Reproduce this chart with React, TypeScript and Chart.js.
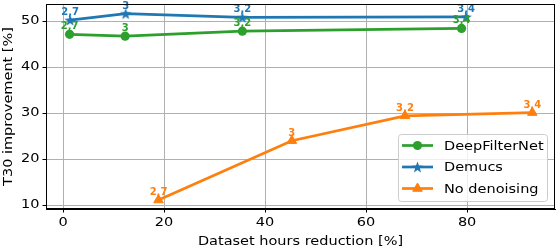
import React, { useEffect, useRef } from "react";
import { Chart, registerables } from "chart.js";
Chart.register(...registerables);

const seriesNames = ["DeepFilterNet", "Demucs", "No denoising"];
const seriesColors = ["#2ca02c", "#1f77b4", "#ff7f0e"];
const deepFilterX = [1.3, 12.3, 35.5, 78.9];
const deepFilterY = [47.1, 46.7, 47.8, 48.4];
const demucsX = [1.4, 12.4, 35.5, 79.8];
const demucsY = [50.2, 51.6, 50.8, 50.9];
const noDenoiseX = [18.9, 45.3, 67.7, 92.9];
const noDenoiseY = [11.1, 24.0, 29.4, 30.1];
const deepFilterLabels = ["2,7", "3", "3,2", "3,4"];
const demucsLabels = ["2,7", "3", "3,2", "3,4"];
const noDenoiseLabels = ["2,7", "3", "3,2", "3,4"];
const xTicks = [0, 20, 40, 60, 80];
const yTicks = [10, 20, 30, 40, 50];
const xTitle = "Dataset hours reduction [%]";
const yTitle = "T30 improvement [%]";

const FONT = "DejaVu Sans";
const TEXT_SIZE = 12.5;
const STRETCH = 1.16;
const AREA = { left: 46, right: 555, top: 4, bottom: 209 };

function starPath(ctx: CanvasRenderingContext2D, cx: number, cy: number, ro: number, ri: number) {
  ctx.beginPath();
  for (let i = 0; i < 10; i++) {
    const r = i % 2 === 0 ? ro : ri;
    const a = -Math.PI / 2 + (i * Math.PI) / 5;
    const px = cx + r * Math.cos(a);
    const py = cy + r * Math.sin(a);
    if (i === 0) ctx.moveTo(px, py);
    else ctx.lineTo(px, py);
  }
  ctx.closePath();
}

function makeStar(color: string) {
  const c = document.createElement("canvas");
  c.width = 14;
  c.height = 14;
  const g = c.getContext("2d")!;
  starPath(g, 7, 7.6, 6, 2.5);
  g.fillStyle = color;
  g.fill();
  return c;
}

function drawMarker(ctx: CanvasRenderingContext2D, kind: number, x: number, y: number, color: string) {
  ctx.save();
  ctx.fillStyle = color;
  ctx.strokeStyle = color;
  ctx.lineWidth = 1;
  if (kind === 0) {
    ctx.beginPath();
    ctx.arc(x, y, 4.6, 0, Math.PI * 2);
    ctx.fill();
  } else if (kind === 1) {
    starPath(ctx, x, y + 0.6, 6, 2.5);
    ctx.fill();
  } else {
    const r = 5.5;
    ctx.beginPath();
    ctx.moveTo(x, y - r);
    ctx.lineTo(x + r * Math.sin((2 * Math.PI) / 3), y - r * Math.cos((2 * Math.PI) / 3));
    ctx.lineTo(x + r * Math.sin((4 * Math.PI) / 3), y - r * Math.cos((4 * Math.PI) / 3));
    ctx.closePath();
    ctx.fill();
    ctx.stroke();
  }
  ctx.restore();
}

const allLabels = [deepFilterLabels, demucsLabels, noDenoiseLabels];

function origFill(ctx: any) {
  return (ctx.__origFillText || ctx.fillText).bind(ctx);
}

const stretchPlugin = {
  id: "stretchText",
  beforeDraw(chart: any) {
    const ctx = chart.ctx as any;
    if (ctx.__origFillText) return;
    const orig = ctx.fillText;
    ctx.__origFillText = orig;
    ctx.fillText = function (t: string, x: number, y: number) {
      ctx.save();
      ctx.translate(x, y);
      ctx.scale(STRETCH, 1);
      orig.call(ctx, t, 0, 0);
      ctx.restore();
    };
  },
};

const labelPlugin = {
  id: "pointLabels",
  afterDatasetsDraw(chart: any) {
    const ctx = chart.ctx as CanvasRenderingContext2D;
    const fill = origFill(ctx);
    ctx.save();
    ctx.font = `bold 10px "${FONT}"`;
    ctx.textAlign = "center";
    ctx.textBaseline = "alphabetic";
    chart.data.datasets.forEach((ds: any, di: number) => {
      const meta = chart.getDatasetMeta(di);
      ctx.fillStyle = seriesColors[di];
      meta.data.forEach((el: any, i: number) => {
        fill(allLabels[di][i], el.x, el.y - 5);
      });
    });
    ctx.restore();
  },
};

const framePlugin = {
  id: "frameAndLegend",
  afterDraw(chart: any) {
    const ctx = chart.ctx as CanvasRenderingContext2D;
    const a = chart.chartArea;
    ctx.save();
    ctx.strokeStyle = "#000";
    ctx.lineWidth = 1;
    ctx.strokeRect(a.left + 0.5, a.top + 0.5, a.right - a.left - 1, a.bottom - a.top - 1);

    // legend
    const bw = 149;
    const bh = 67;
    const bx = a.right - 8 - bw;
    const by = a.bottom - 8 - bh;
    ctx.beginPath();
    (ctx as any).roundRect(bx + 0.5, by + 0.5, bw, bh, 3);
    ctx.fillStyle = "rgba(255,255,255,0.8)";
    ctx.fill();
    ctx.strokeStyle = "#cccccc";
    ctx.stroke();
    ctx.font = `${TEXT_SIZE}px "${FONT}"`;
    ctx.textBaseline = "middle";
    ctx.textAlign = "left";
    seriesNames.forEach((name, i) => {
      const ry = by + 11.5 + i * 21.5;
      ctx.strokeStyle = seriesColors[i];
      ctx.lineWidth = 2.7;
      ctx.beginPath();
      ctx.moveTo(bx + 4, ry);
      ctx.lineTo(bx + 35, ry);
      ctx.stroke();
      drawMarker(ctx, i, bx + 19.5, ry, seriesColors[i]);
      ctx.fillStyle = "#000";
      ctx.fillText(name, bx + 46, ry + 1);
    });
    ctx.restore();
  },
};

const zeroPad = () => ({ left: 0, top: 0, right: 0, bottom: 0 });

export default function App() {
  const ref = useRef<HTMLCanvasElement>(null);
  useEffect(() => {
    if (!ref.current) return;
    const xs = [deepFilterX, demucsX, noDenoiseX];
    const ys = [deepFilterY, demucsY, noDenoiseY];
    const styles: any[] = ["circle", makeStar(seriesColors[1]), "triangle"];
    const radii = [4.6, 6, 5.5];
    const datasets = seriesNames.map((name, i) => ({
      label: name,
      data: xs[i].map((x, j) => ({ x, y: ys[i][j] })),
      showLine: true,
      borderColor: seriesColors[i],
      backgroundColor: seriesColors[i],
      borderWidth: 2.7,
      pointStyle: styles[i],
      pointRadius: radii[i],
      pointBorderWidth: i === 2 ? 1 : 0,
      pointBackgroundColor: seriesColors[i],
      pointBorderColor: seriesColors[i],
      tension: 0,
      clip: false as any,
    }));
    const tickFont = { family: FONT, size: TEXT_SIZE };
    const chart = new Chart(ref.current, {
      type: "scatter",
      data: { datasets },
      plugins: [stretchPlugin, labelPlugin, framePlugin],
      options: {
        animation: false,
        responsive: false,
        devicePixelRatio: 1,
        layout: { autoPadding: false, padding: { top: AREA.top, right: 556 - AREA.right, left: 0, bottom: 0 } },
        plugins: { legend: { display: false }, tooltip: { enabled: false } },
        scales: {
          x: {
            type: "linear",
            min: -3.37,
            max: 97.4,
            afterBuildTicks: (s: any) => {
              s.ticks = xTicks.map((v) => ({ value: v }));
            },
            afterFit: (s: any) => {
              s.height = 251 - AREA.bottom;
              s.paddingLeft = 0;
              s.paddingRight = 0;
              s.paddingTop = 0;
              s.paddingBottom = 0;
              s.getPadding = zeroPad;
            },
            grid: { color: "#b0b0b0", lineWidth: 1, tickColor: "#000", tickLength: 3.5, tickWidth: 1 },
            border: { color: "#000", width: 1 },
            ticks: { font: tickFont, color: "#000", padding: 3, maxRotation: 0, callback: (v: any) => String(v) },
            title: { display: true, text: xTitle, font: tickFont, color: "#000", padding: { top: 0, bottom: 2 } },
          },
          y: {
            type: "linear",
            min: 9.15,
            max: 53.7,
            afterBuildTicks: (s: any) => {
              s.ticks = yTicks.map((v) => ({ value: v }));
            },
            afterFit: (s: any) => {
              s.width = AREA.left;
              s.paddingLeft = 0;
              s.paddingRight = 0;
              s.paddingTop = 0;
              s.paddingBottom = 0;
              s.getPadding = zeroPad;
            },
            grid: { color: "#b0b0b0", lineWidth: 1, tickColor: "#000", tickLength: 3.5, tickWidth: 1 },
            border: { color: "#000", width: 1 },
            ticks: { font: tickFont, color: "#000", padding: 3, callback: (v: any) => String(v) },
            title: { display: true, text: yTitle, font: tickFont, color: "#000", padding: { top: 1, bottom: 0 } },
          },
        },
      },
    });
    return () => chart.destroy();
  }, []);
  return (
    <div style={{ position: "absolute", left: 0, top: 0, width: 556, height: 251, background: "#fff" }}>
      <canvas ref={ref} width={556} height={251} style={{ display: "block", width: 556, height: 251 }} />
    </div>
  );
}
